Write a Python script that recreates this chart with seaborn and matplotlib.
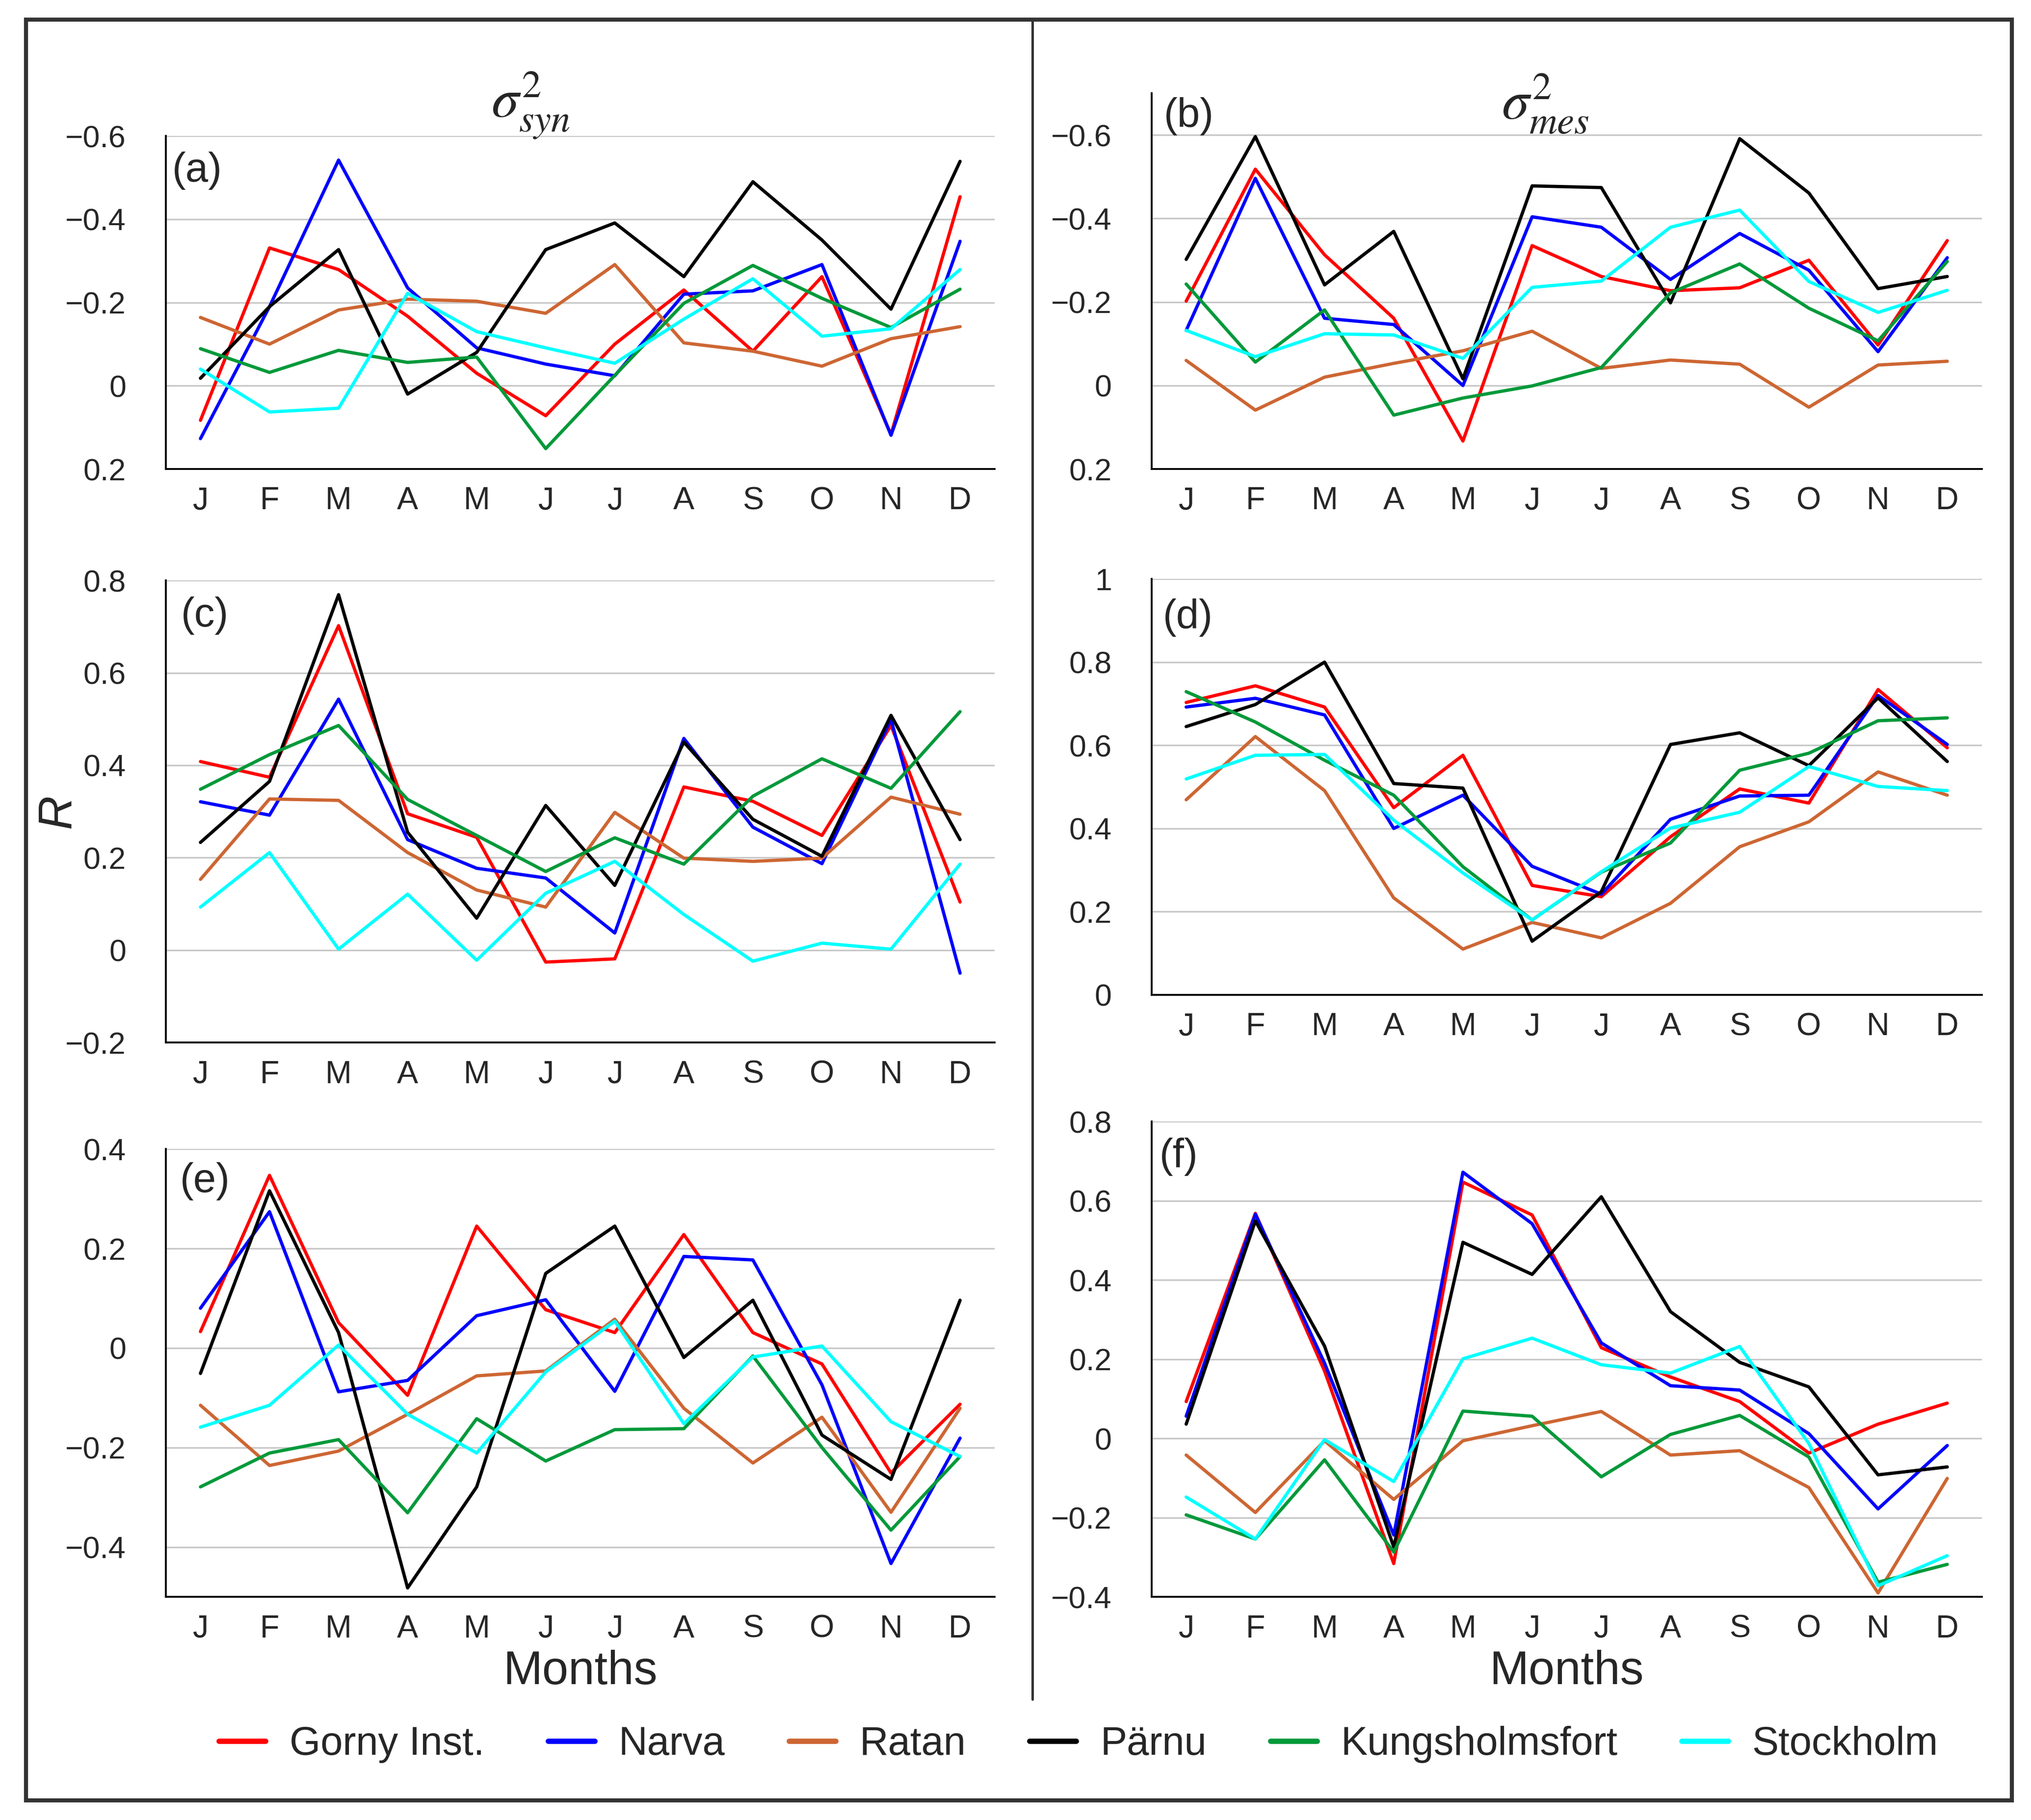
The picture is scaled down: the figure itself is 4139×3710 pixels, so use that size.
import numpy as np
import pandas as pd
import seaborn as sns
import matplotlib
matplotlib.use('Agg')
import matplotlib.pyplot as plt
from matplotlib.lines import Line2D
from matplotlib.ticker import MultipleLocator, FuncFormatter, FixedLocator, NullFormatter

'''
Monthly correlations of sea level variance components with six stations.
Six panels: sigma^2 syn (left) and sigma^2 mes (right), three rows each.
'''

months = ['J', 'F', 'M', 'A', 'M', 'J', 'J', 'A', 'S', 'O', 'N', 'D']
stations = ['Gorny Inst.', 'Narva', 'Ratan', 'Pärnu', 'Kungsholmsfort', 'Stockholm']
colors = ['#ff0000', '#0000ff', '#cd6633', '#000000', '#00993a', '#00ffff']

# values, one list per station (Jan..Dec)
panel_a = {
    'Gorny Inst.':    [0.083, -0.331, -0.279, -0.167, -0.03, 0.072, -0.10, -0.23, -0.083, -0.262, 0.117, -0.454],
    'Narva':          [0.127, -0.19, -0.542, -0.235, -0.091, -0.052, -0.024, -0.22, -0.228, -0.291, 0.119, -0.347],
    'Ratan':          [-0.164, -0.10, -0.182, -0.208, -0.203, -0.174, -0.291, -0.103, -0.083, -0.047, -0.113, -0.142],
    'Pärnu':          [-0.018, -0.19, -0.327, 0.02, -0.08, -0.327, -0.391, -0.262, -0.49, -0.35, -0.184, -0.539],
    'Kungsholmsfort': [-0.089, -0.032, -0.085, -0.056, -0.069, 0.151, -0.025, -0.198, -0.289, -0.21, -0.14, -0.232],
    'Stockholm':      [-0.04, 0.063, 0.054, -0.222, -0.13, -0.091, -0.054, -0.16, -0.257, -0.119, -0.137, -0.279],
}
panel_b = {
    'Gorny Inst.':    [-0.202, -0.518, -0.313, -0.161, 0.133, -0.335, -0.261, -0.227, -0.234, -0.30, -0.097, -0.347],
    'Narva':          [-0.132, -0.496, -0.161, -0.146, 0.0, -0.404, -0.379, -0.254, -0.364, -0.276, -0.081, -0.306],
    'Ratan':          [-0.06, 0.059, -0.02, -0.053, -0.083, -0.13, -0.041, -0.061, -0.051, 0.052, -0.049, -0.058],
    'Pärnu':          [-0.302, -0.596, -0.241, -0.369, -0.016, -0.478, -0.474, -0.198, -0.591, -0.461, -0.232, -0.261],
    'Kungsholmsfort': [-0.243, -0.056, -0.181, 0.071, 0.03, 0.001, -0.043, -0.222, -0.291, -0.185, -0.107, -0.297],
    'Stockholm':      [-0.132, -0.069, -0.124, -0.121, -0.065, -0.235, -0.25, -0.379, -0.42, -0.249, -0.175, -0.228],
}
panel_c = {
    'Gorny Inst.':    [0.408, 0.374, 0.702, 0.295, 0.244, -0.026, -0.019, 0.353, 0.322, 0.248, 0.486, 0.104],
    'Narva':          [0.321, 0.292, 0.543, 0.239, 0.177, 0.156, 0.037, 0.458, 0.266, 0.187, 0.499, -0.05],
    'Ratan':          [0.153, 0.327, 0.324, 0.211, 0.13, 0.093, 0.298, 0.199, 0.192, 0.199, 0.331, 0.294],
    'Pärnu':          [0.233, 0.365, 0.769, 0.255, 0.069, 0.313, 0.14, 0.45, 0.283, 0.203, 0.508, 0.239],
    'Kungsholmsfort': [0.348, 0.423, 0.486, 0.326, 0.248, 0.17, 0.243, 0.186, 0.333, 0.414, 0.35, 0.516],
    'Stockholm':      [0.093, 0.211, 0.002, 0.121, -0.022, 0.123, 0.192, 0.077, -0.024, 0.015, 0.002, 0.186],
}
panel_d = {
    'Gorny Inst.':    [0.703, 0.743, 0.692, 0.45, 0.576, 0.263, 0.236, 0.38, 0.495, 0.461, 0.734, 0.594],
    'Narva':          [0.692, 0.713, 0.673, 0.40, 0.48, 0.309, 0.242, 0.422, 0.478, 0.48, 0.72, 0.602],
    'Ratan':          [0.469, 0.621, 0.491, 0.233, 0.11, 0.174, 0.137, 0.22, 0.356, 0.416, 0.536, 0.48],
    'Pärnu':          [0.645, 0.698, 0.80, 0.508, 0.497, 0.129, 0.248, 0.602, 0.63, 0.551, 0.714, 0.561],
    'Kungsholmsfort': [0.729, 0.656, 0.564, 0.48, 0.308, 0.18, 0.295, 0.365, 0.54, 0.581, 0.659, 0.666],
    'Stockholm':      [0.519, 0.576, 0.578, 0.42, 0.293, 0.18, 0.296, 0.401, 0.439, 0.549, 0.501, 0.491],
}
panel_e = {
    'Gorny Inst.':    [0.033, 0.347, 0.051, -0.095, 0.245, 0.077, 0.031, 0.228, 0.031, -0.032, -0.251, -0.113],
    'Narva':          [0.08, 0.274, -0.088, -0.065, 0.065, 0.097, -0.087, 0.184, 0.177, -0.074, -0.433, -0.181],
    'Ratan':          [-0.115, -0.236, -0.207, -0.133, -0.056, -0.046, 0.058, -0.121, -0.231, -0.139, -0.33, -0.121],
    'Pärnu':          [-0.051, 0.316, 0.031, -0.482, -0.279, 0.15, 0.245, -0.019, 0.096, -0.175, -0.264, 0.096],
    'Kungsholmsfort': [-0.279, -0.211, -0.184, -0.331, -0.142, -0.227, -0.164, -0.162, -0.016, -0.2, -0.366, -0.218],
    'Stockholm':      [-0.159, -0.115, 0.006, -0.133, -0.211, -0.048, 0.054, -0.152, -0.018, 0.004, -0.148, -0.218],
}
panel_f = {
    'Gorny Inst.':    [0.093, 0.568, 0.17, -0.316, 0.647, 0.564, 0.229, 0.155, 0.093, -0.037, 0.036, 0.089],
    'Narva':          [0.056, 0.566, 0.19, -0.244, 0.672, 0.542, 0.241, 0.133, 0.122, 0.012, -0.178, -0.018],
    'Ratan':          [-0.042, -0.187, -0.006, -0.154, -0.006, 0.032, 0.068, -0.042, -0.031, -0.124, -0.39, -0.101],
    'Pärnu':          [0.036, 0.549, 0.233, -0.274, 0.495, 0.414, 0.61, 0.32, 0.192, 0.13, -0.092, -0.072],
    'Kungsholmsfort': [-0.193, -0.254, -0.054, -0.287, 0.069, 0.056, -0.097, 0.01, 0.058, -0.047, -0.363, -0.318],
    'Stockholm':      [-0.148, -0.254, -0.003, -0.109, 0.201, 0.253, 0.186, 0.165, 0.232, -0.013, -0.372, -0.296],
}


def to_long(panel):
    rows = []
    for st in stations:
        for i, v in enumerate(panel[st]):
            rows.append({'month': i + 0.5, 'station': st, 'R': v})
    return pd.DataFrame(rows)


def fmt(v, pos):
    return f'{round(v, 6) + 0.0:g}'.replace('-', '\u2212')


def draw_panel(fig, rect, panel, ylim, letter, letter_pos, xlabel=False, ylabel=False):
    ax = fig.add_axes(rect)
    sns.lineplot(data=to_long(panel), x='month', y='R', hue='station', hue_order=stations,
                 palette=dict(zip(stations, colors)), sort=False, errorbar=None,
                 linewidth=1.6, legend=False, ax=ax)
    ax.set_xlim(0, 12)
    ax.set_ylim(*ylim)
    ax.yaxis.set_major_locator(MultipleLocator(0.2))
    ax.yaxis.set_minor_locator(MultipleLocator(0.1))
    ax.yaxis.set_major_formatter(FuncFormatter(fmt))
    ax.grid(axis='y', which='major', color='#c8c8c8', linewidth=0.8)
    ax.set_axisbelow(True)
    # month separators as major ticks, month names as minor tick labels
    ax.xaxis.set_major_locator(FixedLocator(np.arange(0, 13)))
    ax.xaxis.set_major_formatter(NullFormatter())
    ax.xaxis.set_minor_locator(FixedLocator(np.arange(12) + 0.5))
    ax.xaxis.set_minor_formatter(FuncFormatter(lambda v, p: months[int(v)]))
    ax.tick_params(axis='x', which='major', direction='out', length=13.7, width=0.9, color='black')
    ax.tick_params(axis='x', which='minor', length=0, pad=8.5, labelsize=15.5)
    ax.tick_params(axis='y', which='major', direction='out', length=13.7, width=0.9,
                   color='black', pad=5.8, labelsize=15)
    ax.tick_params(axis='y', which='minor', direction='out', length=6.5, width=0.9, color='black')
    for s in ['top', 'right']:
        ax.spines[s].set_visible(False)
    for s in ['left', 'bottom']:
        ax.spines[s].set_color('black')
        ax.spines[s].set_linewidth(0.9)
    ax.set_xlabel('Months' if xlabel else '', fontsize=23, labelpad=3)
    if ylabel:
        ax.set_ylabel('R', fontsize=23, fontstyle='italic')
        ax.yaxis.set_label_coords(-0.13, 0.5)
        ax.yaxis.label.set_va('center')
    else:
        ax.set_ylabel('')
    ax.text(letter_pos[0], letter_pos[1], letter, transform=ax.transAxes,
            ha='center', va='center', fontsize=20)
    return ax


if __name__ == '__main__':
    sns.set_theme(style='white')
    plt.rcParams['font.family'] = ['Liberation Sans', 'DejaVu Sans']
    plt.rcParams['mathtext.fontset'] = 'stix'
    plt.rcParams['axes.unicode_minus'] = True

    fig = plt.figure(figsize=(4139 / 300, 3710 / 300), dpi=300)

    draw_panel(fig, [0.0817, 0.7423, 0.408, 0.183], panel_a, (0.2, -0.6), '(a)', (0.0375, 0.895))
    draw_panel(fig, [0.5670, 0.7423, 0.4088, 0.2065], panel_b, (0.2, -0.7), '(b)', (0.045, 0.938))
    draw_panel(fig, [0.0817, 0.4272, 0.408, 0.2539], panel_c, (-0.2, 0.8), '(c)', (0.047, 0.924), ylabel=True)
    draw_panel(fig, [0.5670, 0.4534, 0.4088, 0.2285], panel_d, (0.0, 1.0), '(d)', (0.044, 0.907))
    draw_panel(fig, [0.0817, 0.1226, 0.408, 0.2461], panel_e, (-0.5, 0.4), '(e)', (0.047, 0.928), xlabel=True)
    draw_panel(fig, [0.5670, 0.1226, 0.4088, 0.2612], panel_f, (-0.4, 0.8), '(f)', (0.033, 0.926), xlabel=True)

    fig.text(0.2614, 0.9418, r'$\sigma^2_{syn}$', ha='center', va='center', fontsize=27)
    fig.text(0.7610, 0.9430, r'$\sigma^2_{mes}$', ha='center', va='center', fontsize=27)

    # outer frame and middle divider
    fig.add_artist(plt.Rectangle((0.0128, 0.0108), 0.9778, 0.9784, transform=fig.transFigure,
                                 fill=False, edgecolor='#333333', linewidth=2.0))
    fig.add_artist(Line2D([0.5083, 0.5083], [0.9892, 0.0663], transform=fig.transFigure,
                          color='#333333', linewidth=1.2))

    handles = [Line2D([], [], color=c, linewidth=2.6) for c in colors]
    fig.legend(handles, stations, loc='center', bbox_to_anchor=(0.531, 0.0415), ncol=6,
               frameon=False, fontsize=19.5, handlelength=1.17, handletextpad=0.6,
               columnspacing=1.6)

    fig.savefig('out.png', dpi=300)
